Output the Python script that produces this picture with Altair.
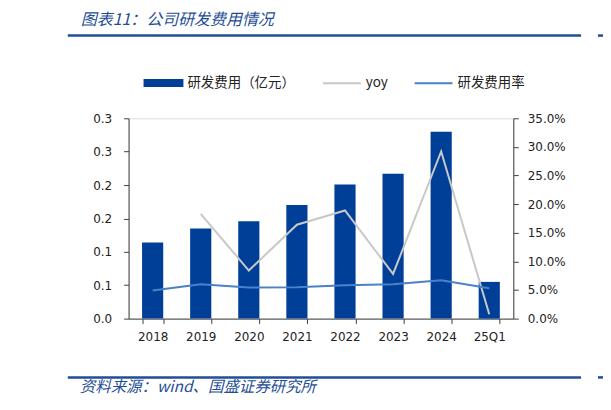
import json
import altair as alt
import pandas as pd

# ---------------- data ----------------
categories = ["2018", "2019", "2020", "2021", "2022", "2023", "2024", "25Q1"]
rd_expense = [0.114, 0.135, 0.146, 0.170, 0.201, 0.217, 0.280, 0.055]      # 亿元
yoy = [None, 0.183, 0.084, 0.164, 0.189, 0.078, 0.292, 0.0075]
rd_ratio = [0.049, 0.060, 0.0545, 0.055, 0.0585, 0.060, 0.067, 0.053]
left_tick_labels = ["0.0", "0.1", "0.1", "0.2", "0.2", "0.3", "0.3"]
right_tick_values = [0.0, 0.05, 0.10, 0.15, 0.20, 0.25, 0.30, 0.35]

bar_name = "研发费用（亿元）"
line_names = ["yoy", "研发费用率"]
title_text = "图表11：公司研发费用情况"
source_text = "资料来源：wind、国盛证券研究所"

BLUE_DARK = "#003f98"
GRAY = "#c8c8c8"
BLUE_LINE = "#4a82c8"
TITLE_BLUE = "#1f4e96"
CJK = "Noto Sans CJK SC"
AXFONT = "DejaVu Sans"

bar_df = pd.DataFrame({"category": categories, "value": rd_expense, "series": bar_name})
line_df = pd.concat([
    pd.DataFrame({"category": categories, "pct": yoy, "series": line_names[0]}),
    pd.DataFrame({"category": categories, "pct": rd_ratio, "series": line_names[1]}),
], ignore_index=True)

left_tick_values = [round(i * 0.05, 2) for i in range(len(left_tick_labels))]
label_expr = json.dumps(left_tick_labels) + "[round(datum.value / 0.05)]"

x_enc = alt.X(
    "category:N", sort=categories,
    scale=alt.Scale(paddingInner=0.56, paddingOuter=0.28),
    axis=alt.Axis(title=None, labelAngle=0, tickBand="extent", tickSize=5,
                  labelPadding=8, labelFont=AXFONT, labelFontSize=12,
                  labelColor="#222222", domainColor="#404040", tickColor="#404040"),
)

bars = alt.Chart(bar_df).mark_bar(color=BLUE_DARK).encode(
    x=x_enc,
    y=alt.Y("value:Q", scale=alt.Scale(domain=[0, 0.30], nice=False),
            axis=alt.Axis(title=None, values=left_tick_values, labelExpr=label_expr,
                          grid=False, tickSize=5, labelPadding=12, labelFont=AXFONT,
                          labelFontSize=12, labelColor="#222222",
                          domainColor="#404040", tickColor="#404040")),
    color=alt.Color("series:N", scale=alt.Scale(domain=[bar_name], range=[BLUE_DARK]),
                    legend=alt.Legend(orient="none", legendX=15, legendY=-55.5, title=None,
                                      symbolType="M-1,-0.2H1V0.2H-1Z", symbolSize=1600,
                                      symbolStrokeWidth=0, labelOffset=4,
                                      labelFont=CJK, labelFontSize=13.5, labelColor="#222222")),
)

lines = alt.Chart(line_df).mark_line(strokeWidth=2).encode(
    x=x_enc,
    y=alt.Y("pct:Q", scale=alt.Scale(domain=[0, 0.35], nice=False),
            axis=alt.Axis(title=None, orient="right", values=right_tick_values, format=".1%",
                          grid=False, tickSize=5, labelPadding=9, labelFont=AXFONT,
                          labelFontSize=12, labelColor="#222222",
                          domainColor="#404040", tickColor="#404040")),
    color=alt.Color("series:N", sort=line_names,
                    scale=alt.Scale(domain=line_names, range=[GRAY, BLUE_LINE]),
                    legend=alt.Legend(orient="none", legendX=194, legendY=-55.5, title=None,
                                      direction="horizontal", symbolType="stroke",
                                      symbolSize=1444, symbolStrokeWidth=2, labelOffset=4,
                                      columnPadding=22,
                                      labelFont=CJK, labelFontSize=13.5, labelColor="#222222")),
)

one = pd.DataFrame({"t": [title_text]})
src = pd.DataFrame({"t": [source_text]})

title = alt.Chart(one).mark_text(align="left", baseline="middle", font=CJK, fontSize=16,
                                 fontStyle="italic", color=TITLE_BLUE).encode(
    x=alt.value(-48), y=alt.value(-99), text="t:N")
source = alt.Chart(src).mark_text(align="left", baseline="middle", font=CJK, fontSize=15.5,
                                  fontStyle="italic", color=TITLE_BLUE).encode(
    x=alt.value(-49), y=alt.value(270), text="t:N")

top_rule = alt.Chart(one).mark_rule(color=TITLE_BLUE, strokeWidth=2.5).encode(
    x=alt.value(-61), x2=alt.value(454), y=alt.value(-83))
top_rule2 = alt.Chart(one).mark_rule(color=TITLE_BLUE, strokeWidth=2.5).encode(
    x=alt.value(471), x2=alt.value(482), y=alt.value(-83))
bot_rule = alt.Chart(one).mark_rule(color=TITLE_BLUE, strokeWidth=2.5).encode(
    x=alt.value(-61), x2=alt.value(454), y=alt.value(260))
bot_rule2 = alt.Chart(one).mark_rule(color=TITLE_BLUE, strokeWidth=2.5).encode(
    x=alt.value(471), x2=alt.value(482), y=alt.value(260))

chart = alt.layer(bars, lines, title, source, top_rule, top_rule2, bot_rule, bot_rule2).resolve_scale(
    y="independent", color="independent"
).properties(
    width=386, height=201,
    autosize=alt.AutoSizeParams(type="none"),
    padding={"left": 121, "top": 110, "right": 90, "bottom": 84},
).configure_view(stroke=None).configure(background="white")

chart.save("out.html", embed_options={"renderer": "svg", "actions": False})
